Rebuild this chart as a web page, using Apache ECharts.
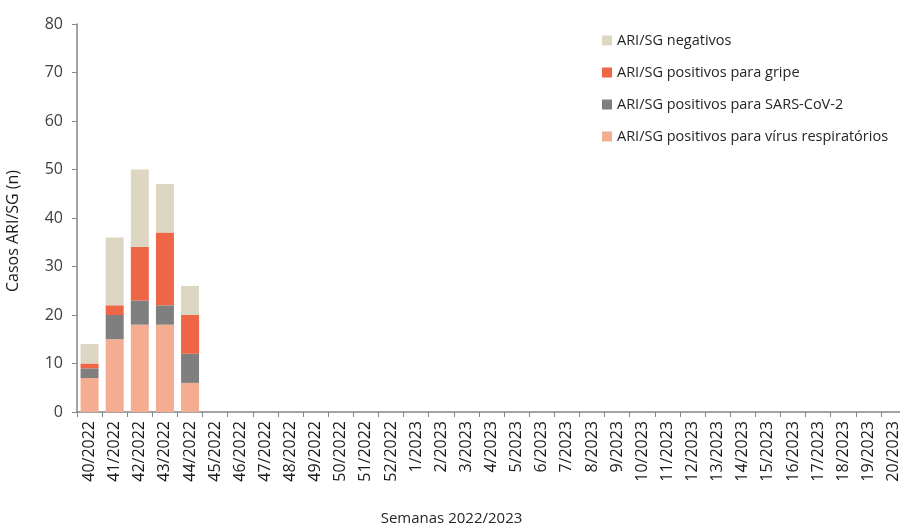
<!DOCTYPE html>
<html><head><meta charset="utf-8">
<script src="https://cdn.jsdelivr.net/npm/echarts@6/dist/echarts.min.js"></script>
<style>html,body{margin:0;padding:0;background:#fff}#c{width:900px;height:525px}</style>
</head><body><div id="c"></div>
<script>
const categories = ["40/2022","41/2022","42/2022","43/2022","44/2022","45/2022","46/2022","47/2022","48/2022","49/2022","50/2022","51/2022","52/2022","1/2023","2/2023","3/2023","4/2023","5/2023","6/2023","7/2023","8/2023","9/2023","10/2023","11/2023","12/2023","13/2023","14/2023","15/2023","16/2023","17/2023","18/2023","19/2023","20/2023"];
const respiratorios = [7,15,18,18,6];
const sarsCov2 = [2,5,5,4,6];
const gripe = [1,2,11,15,8];
const negativos = [4,14,16,10,6];
const yTicks = [0,10,20,30,40,50,60,70,80];

const font = "'Open Sans', 'Noto Sans', sans-serif";
const chart = echarts.init(document.getElementById('c'));
function s(name, data, color){
  return {name, type:'bar', stack:'t', data, barWidth:18, itemStyle:{color}, emphasis:{disabled:true}};
}
chart.setOption({
  animation:false,
  textStyle:{fontFamily:font},
  grid:{left:77, top:24, bottom:113, width:829, containLabel:false, outerBoundsMode:'none'},
  legend:{
    orient:'vertical', left:597, top:26, itemGap:13, itemWidth:10, itemHeight:10, icon:'rect',
    data:['ARI/SG negativos','ARI/SG positivos para gripe','ARI/SG positivos para SARS-CoV-2','ARI/SG positivos para vírus respiratórios'],
    textStyle:{fontFamily:font, fontSize:14.5, color:'#262626', lineHeight:19}
  },
  xAxis:{
    type:'category', data:categories,
    name:'Semanas 2022/2023', nameLocation:'middle', nameGap:99,
    nameTextStyle:{fontFamily:font, fontSize:15, color:'#262626', padding:[0,0,0,-80]},
    axisLine:{lineStyle:{color:'#868686', width:1.5}},
    axisTick:{show:true, length:5, alignWithLabel:false, lineStyle:{color:'#868686'}},
    axisLabel:{rotate:90, interval:0, fontFamily:font, fontSize:16, color:'#1a1a1a', margin:9}
  },
  yAxis:{
    type:'value', min:0, max:80, interval:10,
    name:'Casos ARI/SG (n)', nameLocation:'middle', nameGap:56,
    nameTextStyle:{fontFamily:font, fontSize:16, color:'#1a1a1a', padding:[0,0,0,-26]},
    axisLine:{show:true, lineStyle:{color:'#868686', width:1.5}},
    axisTick:{show:true, length:5, lineStyle:{color:'#868686'}},
    splitLine:{show:false},
    axisLabel:{fontFamily:font, fontSize:16, color:'#404040', margin:14,
      formatter:v=>yTicks.includes(v)?String(v):''}
  },
  series:[
    s('ARI/SG positivos para vírus respiratórios', respiratorios, '#F4AD90'),
    s('ARI/SG positivos para SARS-CoV-2', sarsCov2, '#7F7F7F'),
    s('ARI/SG positivos para gripe', gripe, '#EE6645'),
    s('ARI/SG negativos', negativos, '#DCD6C2')
  ]
});
</script></body></html>
